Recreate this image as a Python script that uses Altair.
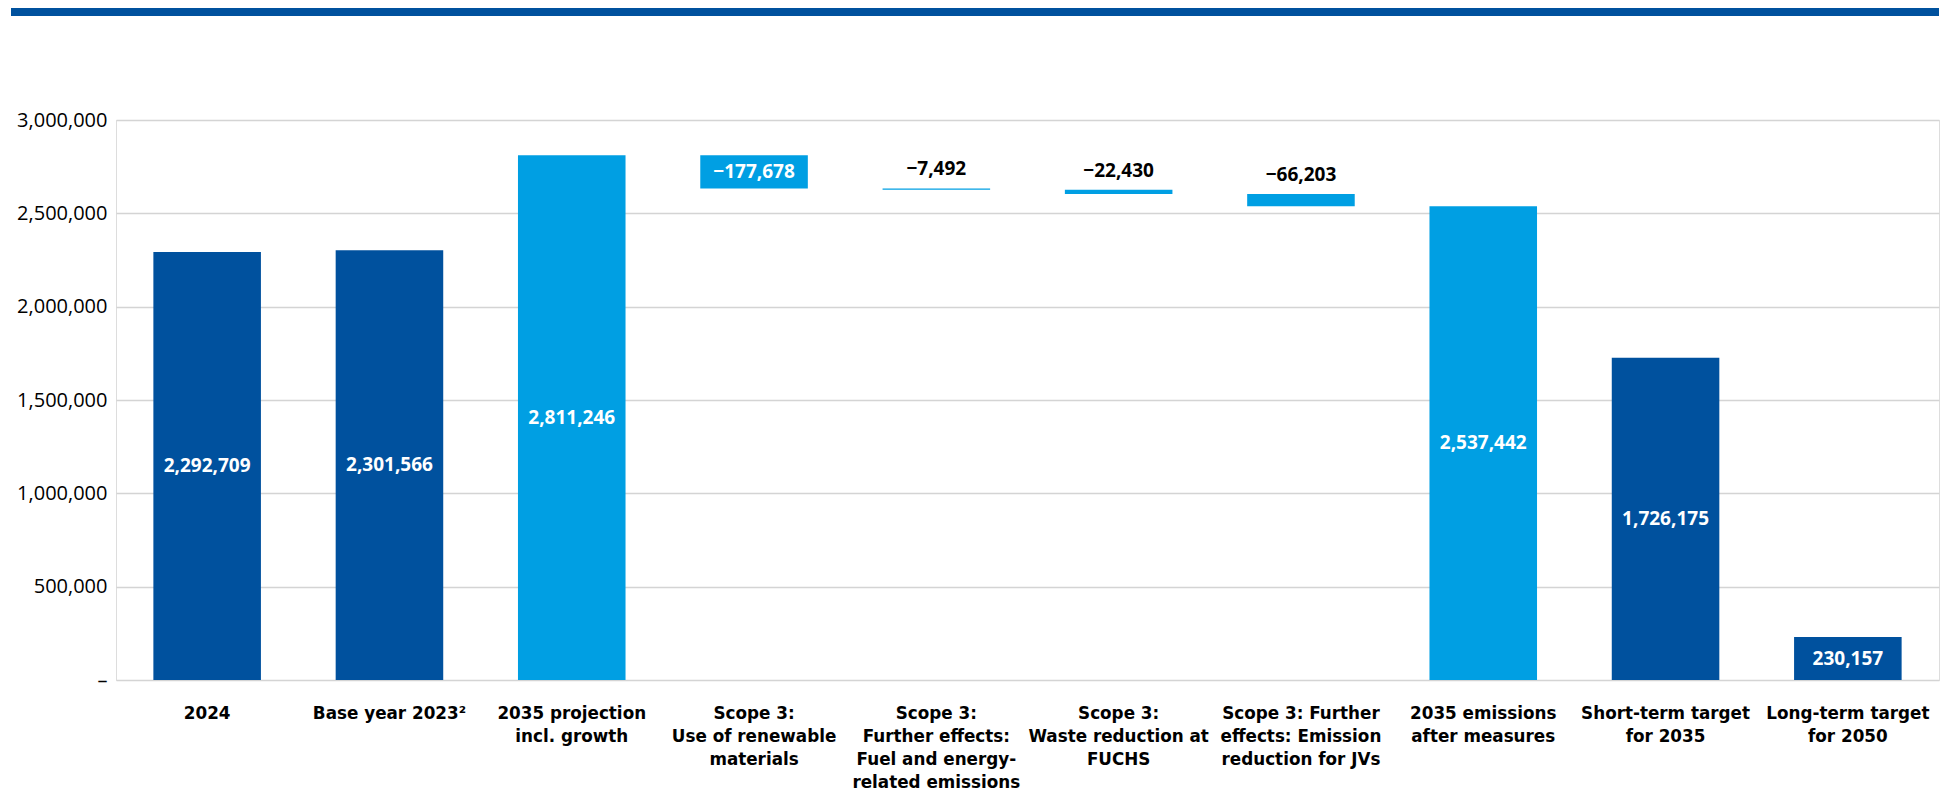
import altair as alt
import pandas as pd

categories = [
    "2024",
    "Base year 2023²",
    "2035 projection\nincl. growth",
    "Scope 3:\nUse of renewable\nmaterials",
    "Scope 3:\nFurther effects:\nFuel and energy-\nrelated emissions",
    "Scope 3:\nWaste reduction at\nFUCHS",
    "Scope 3: Further\neffects: Emission\nreduction for JVs",
    "2035 emissions\nafter measures",
    "Short-term target\nfor 2035",
    "Long-term target\nfor 2050",
]
values = [2292709, 2301566, 2811246, -177678, -7492, -22430, -66203, 2537442, 1726175, 230157]
kinds = ["total", "total", "total", "delta", "delta", "delta", "delta", "total", "total", "total"]
shades = ["dark", "dark", "light", "light", "light", "light", "light", "light", "dark", "dark"]
label_inside = [True, True, True, True, False, False, False, True, True, True]

DARK = "#00519E"
LIGHT = "#009FE3"

rows = []
running = 0
for c, v, k, s, ins in zip(categories, values, kinds, shades, label_inside):
    if k == "total":
        lo, hi = 0, v
        running = v
    else:
        hi = running
        lo = running + v
        running = lo
    txt = f"{abs(v):,}"
    if v < 0:
        txt = "\u2212" + txt
    rows.append({
        "cat": c, "lo": lo, "hi": hi,
        "color": DARK if s == "dark" else LIGHT,
        "label": txt,
        "mid": (lo + hi) / 2,
        "top": max(lo, hi),
        "inside": ins,
    })
df = pd.DataFrame(rows)

FONT = "Open Sans"
XFONT = "DejaVu Sans"
W, H = 1823, 560

x_enc = alt.X(
    "cat:N", sort=categories, title=None,
    scale=alt.Scale(paddingInner=0.41, paddingOuter=0.205),
    axis=alt.Axis(
        labelExpr="split(datum.value, '\\n')", labelAngle=0,
        labelFont=XFONT, labelFontSize=16.8, labelFontWeight="bold", labelColor="#000000",
        labelLineHeight=23.3, labelPadding=25, labelBaseline="top",
        ticks=False, domain=False, grid=False, labelLimit=300,
    ),
)

bars = alt.Chart(df).mark_bar().encode(
    x=x_enc,
    y=alt.Y(
        "lo:Q", title=None,
        scale=alt.Scale(domain=[0, 3000000], nice=False),
        axis=alt.Axis(
            values=[0, 500000, 1000000, 1500000, 2000000, 2500000, 3000000],
            labelExpr="datum.value == 0 ? '\u2013' : format(datum.value, ',d')",
            labelFont=FONT, labelFontSize=20, labelColor="#000000", labelPadding=9,
            ticks=False, domain=False, grid=True, gridColor="#D4D4D4", gridWidth=1.5,
        ),
    ),
    y2="hi:Q",
    color=alt.Color("color:N", scale=None),
)

inside_labels = alt.Chart(df).transform_filter("datum.inside").mark_text(
    font=FONT, fontSize=19, fontWeight="bold", color="white", baseline="middle"
).encode(
    x=alt.X("cat:N", sort=categories),
    y=alt.Y("mid:Q"),
    text="label:N",
)

above_labels = alt.Chart(df).transform_filter("!datum.inside").mark_text(
    font=FONT, fontSize=19, fontWeight="bold", color="black", baseline="middle", dy=-19
).encode(
    x=alt.X("cat:N", sort=categories),
    y=alt.Y("top:Q"),
    text="label:N",
)

band = alt.Chart(alt.Data(values=[{}])).mark_rect(color=DARK).encode(
    x=alt.value(-105), x2=alt.value(W), y=alt.value(-112), y2=alt.value(-104)
)

chart = alt.layer(band, bars, inside_labels, above_labels).properties(
    width=W, height=H,
    autosize=alt.AutoSizeParams(type="none"),
    padding={"left": 108, "top": 112, "right": 5, "bottom": 116},
).configure_view(stroke=None).configure(background="white")

chart.save("out.html", embed_options={"renderer": "svg", "actions": False})
